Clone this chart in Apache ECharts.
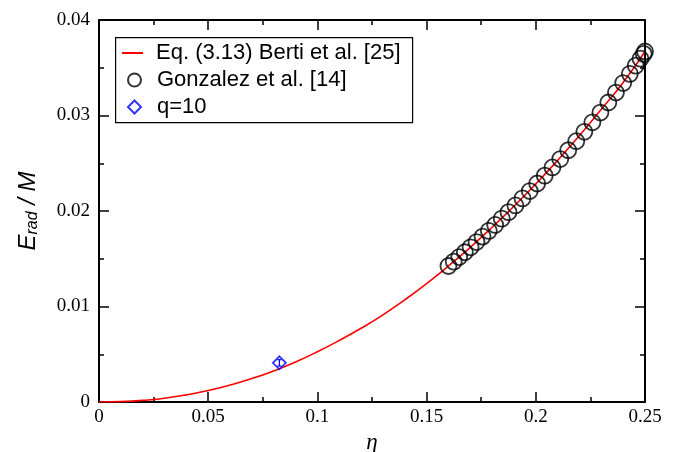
<!DOCTYPE html>
<html>
<head>
<meta charset="utf-8">
<script src="https://cdn.jsdelivr.net/npm/echarts@6/dist/echarts.min.js"></script>
<style>
  html, body { margin: 0; padding: 0; background: #fff; }
  #chart { width: 683px; height: 452px; }
</style>
</head>
<body>
<div id="chart"></div>
<script>
// Eq. (3.13) Berti et al. curve
const fitEta = [0, 0.01, 0.02, 0.03, 0.04, 0.05, 0.06, 0.07, 0.08, 0.09, 0.10, 0.11, 0.12,
  0.13, 0.14, 0.15, 0.16, 0.17, 0.18, 0.19, 0.20, 0.21, 0.22, 0.23, 0.24, 0.25];
const fitErad = [0, 0.00004, 0.00017, 0.00040, 0.00075, 0.00120, 0.00177, 0.00245, 0.00326,
  0.00419, 0.00526, 0.00644, 0.00772, 0.00912, 0.01070, 0.01240, 0.01424, 0.01620, 0.01830,
  0.02050, 0.02284, 0.02530, 0.02790, 0.03065, 0.03345, 0.03670];

// Gonzalez et al. [14]
const gonzEta = [0.16000, 0.16243, 0.16493, 0.16750, 0.17013, 0.17284, 0.17562, 0.17848,
  0.18141, 0.18442, 0.18750, 0.19066, 0.19391, 0.19723, 0.20062, 0.20408, 0.20761, 0.21120,
  0.21484, 0.21852, 0.22222, 0.22592, 0.22959, 0.23320, 0.23669, 0.24000, 0.24306, 0.24575,
  0.24793, 0.24943, 0.25000];
const gonzErad = [0.01424, 0.01470, 0.01518, 0.01568, 0.01620, 0.01675, 0.01732, 0.01792,
  0.01854, 0.01920, 0.01988, 0.02058, 0.02132, 0.02209, 0.02288, 0.02370, 0.02456, 0.02544,
  0.02636, 0.02731, 0.02829, 0.02929, 0.03031, 0.03136, 0.03240, 0.03340, 0.03436, 0.03522,
  0.03595, 0.03645, 0.03670];

// q=10 run, with its small error bar
const q10Eta = [0.0826];
const q10Erad = [0.0041];
const q10Low = [0.00377];
const q10High = [0.00443];

const xTicks = [0, 0.05, 0.1, 0.15, 0.2, 0.25];
const yTicks = [0, 0.01, 0.02, 0.03, 0.04];

const names = ["Eq. (3.13) Berti et al. [25]", "Gonzalez et al. [14]", "q=10"];

const chart = echarts.init(document.getElementById("chart"));

const zip = (xs, ys) => xs.map((x, i) => [x, ys[i]]);

const frameAxis = {
  axisLine: { show: true, onZero: false, lineStyle: { color: "#000", width: 2 } },
  axisTick: { show: true, inside: true, length: 10, lineStyle: { color: "#000", width: 1.5 } },
  minorTick: { show: true, splitNumber: 2, length: 5, lineStyle: { color: "#000", width: 1.5 } },
  splitLine: { show: false },
};

const labelFont = { color: "#000", fontFamily: "Liberation Serif", fontSize: 19 };
const legendText = { fontFamily: "Liberation Sans", fontSize: 22, color: "#000" };

const legendBase = {
  orient: "vertical",
  padding: 0,
  z: 6,
  selectedMode: false,
};

const option = {
  animation: false,
  backgroundColor: "#fff",
  grid: { left: 99, right: 38, top: 20, bottom: 50, outerBoundsMode: "none" },
  graphic: [
    {
      type: "rect",
      left: 115,
      top: 37,
      z: 5,
      shape: { width: 297, height: 85 },
      style: { fill: "#fff", stroke: "#000", lineWidth: 1.2 },
    },
  ],
  legend: [
    Object.assign({}, legendBase, {
      left: 122,
      top: 42,
      itemWidth: 21,
      itemHeight: 2,
      textStyle: Object.assign({ padding: [0, 0, 0, 8] }, legendText),
      data: [{ name: names[0], icon: "rect" }],
    }),
    Object.assign({}, legendBase, {
      left: 127,
      top: 69,
      itemWidth: 13,
      itemHeight: 13,
      textStyle: Object.assign({ padding: [0, 0, 0, 11] }, legendText),
      data: [names[1]],
    }),
    Object.assign({}, legendBase, {
      left: 127,
      top: 96,
      itemWidth: 13,
      itemHeight: 13,
      textStyle: Object.assign({ padding: [0, 0, 0, 11] }, legendText),
      data: [names[2]],
    }),
  ],
  xAxis: [
    Object.assign({}, frameAxis, {
      type: "value",
      min: 0,
      max: 0.25,
      interval: 0.05,
      position: "bottom",
      name: "η",
      nameLocation: "middle",
      nameGap: 24,
      nameTextStyle: { fontFamily: "Liberation Serif", fontStyle: "italic", fontSize: 23, color: "#000" },
      axisLabel: Object.assign({}, labelFont, {
        margin: 6,
        formatter: (v) => (xTicks.indexOf(v) >= 0 ? String(v) : ""),
      }),
    }),
    Object.assign({}, frameAxis, {
      type: "value",
      min: 0,
      max: 0.25,
      interval: 0.05,
      position: "top",
      axisLabel: { show: false },
    }),
  ],
  yAxis: [
    Object.assign({}, frameAxis, {
      type: "value",
      min: 0,
      max: 0.04,
      interval: 0.01,
      position: "left",
      name: "{i|E}{s|rad}{i| / M}",
      nameLocation: "middle",
      nameRotate: 90,
      nameGap: 58,
      nameTextStyle: {
        rich: {
          i: { fontFamily: "Liberation Sans", fontStyle: "italic", fontSize: 24, color: "#000", lineHeight: 26 },
          s: { fontFamily: "Liberation Sans", fontStyle: "italic", fontSize: 16, color: "#000", verticalAlign: "bottom", lineHeight: 16 },
        },
      },
      axisLabel: Object.assign({}, labelFont, {
        margin: 9,
        formatter: (v) => (yTicks.indexOf(v) >= 0 ? String(v) : ""),
      }),
    }),
    Object.assign({}, frameAxis, {
      type: "value",
      min: 0,
      max: 0.04,
      interval: 0.01,
      position: "right",
      axisLabel: { show: false },
    }),
  ],
  series: [
    {
      name: names[0],
      type: "line",
      data: zip(fitEta, fitErad),
      smooth: true,
      symbol: "none",
      color: "#ff0000",
      lineStyle: { color: "#ff0000", width: 1.6 },
      z: 2,
    },
    {
      name: names[1],
      type: "scatter",
      data: zip(gonzEta, gonzErad),
      symbol: "circle",
      symbolSize: 16,
      itemStyle: { color: "rgba(0,0,0,0)", borderColor: "#000", borderWidth: 1.8 },
      z: 3,
    },
    {
      name: names[2],
      type: "scatter",
      data: zip(q10Eta, q10Erad),
      symbol: "diamond",
      symbolSize: 13,
      itemStyle: { color: "rgba(0,0,0,0)", borderColor: "#0000ff", borderWidth: 1.8 },
      z: 4,
    },
    {
      name: "q=10 error",
      type: "custom",
      data: q10Eta.map((x, i) => [x, q10Low[i], q10High[i]]),
      z: 4,
      renderItem: (params, api) => {
        const lo = api.coord([api.value(0), api.value(1)]);
        const hi = api.coord([api.value(0), api.value(2)]);
        const st = { stroke: "#0000ff", lineWidth: 1.2 };
        return {
          type: "group",
          children: [
            { type: "line", shape: { x1: lo[0], y1: lo[1], x2: hi[0], y2: hi[1] }, style: st },
            { type: "line", shape: { x1: lo[0] - 2, y1: lo[1], x2: lo[0] + 2, y2: lo[1] }, style: st },
            { type: "line", shape: { x1: hi[0] - 2, y1: hi[1], x2: hi[0] + 2, y2: hi[1] }, style: st },
          ],
        };
      },
    },
  ],
};

chart.setOption(option);
</script>
</body>
</html>
